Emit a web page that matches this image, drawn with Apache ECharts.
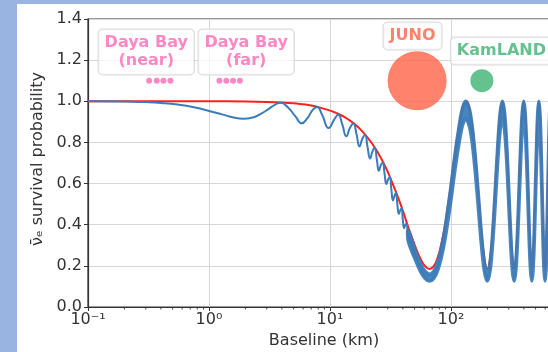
<!DOCTYPE html>
<html>
<head>
<meta charset="utf-8">
<script src="https://cdn.jsdelivr.net/npm/echarts@6/dist/echarts.min.js"></script>
<style>
  html, body { margin: 0; padding: 0; background: #ffffff; }
  #chart { width: 548px; height: 352px; }
</style>
</head>
<body>
<div id="chart"></div>
<script>
// Baselines (km) and survival probabilities
const xTickLabels = ['10⁻¹', '10⁰', '10¹', '10²', '10³'];
const minorTickValues = [0.2, 0.3, 0.4, 0.5, 0.6, 0.7, 0.8, 0.9,
  2, 3, 4, 5, 6, 7, 8, 9, 20, 30, 40, 50, 60, 70, 80, 90,
  200, 300, 400, 500, 600, 700, 800, 900];

// Solar-driven (slow) envelope
const redL = [0.1, 0.3, 1, 2, 3, 4, 5, 7, 9, 11.1, 14, 17.4, 22.2, 27.7, 33.3, 38.8, 44.3, 49.9,
  55.4, 61.0, 66.5, 72.0, 77.6, 83.1, 88.7, 94.2, 99.8, 105.3, 110.8, 116.4, 121.9, 127.5, 133,
  144.1, 155.2, 166.3, 177.3, 188.4, 199.5, 210.6, 221.7, 232.8, 243.8, 254.9, 266,
  277.1, 288.2, 299.3, 310.3, 321.4, 332.5, 343.6, 354.7, 365.8, 376.8, 387.9, 399,
  410.1, 421.2, 432.3, 443.3, 454.4, 465.5, 476.6, 487.7, 498.8, 509.8, 520.9, 532,
  543.1, 554.2, 565.3, 576.3, 587.4, 598.5, 609.6, 620.7, 631.8, 642.8, 653.9, 665,
  676.1, 687.2, 698.3];
const redP = [1.0, 1.0, 1.0, 0.999, 0.997, 0.994, 0.99, 0.98, 0.963, 0.945, 0.914, 0.87, 0.796, 0.70, 0.593, 0.49, 0.389, 0.305,
  0.24, 0.199, 0.185, 0.199, 0.24, 0.305, 0.389, 0.49, 0.593, 0.70, 0.796, 0.877, 0.945, 0.986, 1.0,
  0.945, 0.796, 0.593, 0.389, 0.24, 0.185, 0.24, 0.389, 0.593, 0.796, 0.945, 1.0,
  0.945, 0.796, 0.593, 0.389, 0.24, 0.185, 0.24, 0.389, 0.593, 0.796, 0.945, 1.0,
  0.945, 0.796, 0.593, 0.389, 0.24, 0.185, 0.24, 0.389, 0.593, 0.796, 0.945, 1.0,
  0.945, 0.796, 0.593, 0.389, 0.24, 0.185, 0.24, 0.389, 0.593, 0.796, 0.945, 1.0,
  0.945, 0.796, 0.593];

// Full oscillation, resolved wiggles at short baselines
const blueL = [0.1, 0.2, 0.3, 0.4, 0.55, 0.75, 1.0, 1.3, 1.6, 1.9, 2.3, 2.7, 3.1, 3.5, 3.9,
  4.5, 5.2, 5.85, 6.5, 7.2, 7.8, 8.6, 9.75, 10.8, 11.7, 12.6, 13.65, 14.6, 15.6, 16.5, 17.55,
  18.5, 19.5, 20.4, 21.45, 22.4, 23.4, 24.4, 25.35, 26.3, 27.3, 28.2, 29.25, 30.2, 31.2, 32.1,
  33.15, 34.1, 35.1, 36.0, 37.05, 38.0, 39.0, 39.9, 40.95, 41.9, 42.9, 43.8, 44.85, 45.8, 46.8,
  47.7, 48.75, 49.7, 50.7];
const blueP = [1.0, 0.999, 0.996, 0.992, 0.984, 0.971, 0.953, 0.935, 0.921, 0.915, 0.921, 0.94, 0.962, 0.983, 0.993,
  0.97, 0.925, 0.893, 0.918, 0.958, 0.972, 0.935, 0.87, 0.91, 0.934, 0.89, 0.83, 0.87, 0.892, 0.845, 0.78,
  0.818, 0.836, 0.78, 0.722, 0.755, 0.775, 0.715, 0.662, 0.69, 0.703, 0.65, 0.598, 0.62, 0.632, 0.575,
  0.518, 0.54, 0.555, 0.5, 0.453, 0.47, 0.48, 0.43, 0.383, 0.4, 0.405, 0.36, 0.316, 0.33, 0.338,
  0.295, 0.258, 0.27, 0.28];

// Full oscillation, unresolved fast wiggles drawn as a band
const bandL = [44.3, 49.9, 55.4, 61.0, 66.5, 72.0, 77.6, 83.1, 88.7, 94.2, 99.8, 105.3, 110.8, 116.4, 121.9, 127.5, 133,
  144.1, 155.2, 166.3, 177.3, 188.4, 199.5, 210.6, 221.7, 232.8, 243.8, 254.9, 266,
  277.1, 288.2, 299.3, 310.3, 321.4, 332.5, 343.6, 354.7, 365.8, 376.8, 387.9, 399,
  410.1, 421.2, 432.3, 443.3, 454.4, 465.5, 476.6, 487.7, 498.8, 509.8, 520.9, 532,
  543.1, 554.2, 565.3, 576.3, 587.4, 598.5, 609.6, 620.7, 631.8, 642.8, 653.9, 665,
  676.1, 687.2, 698.3];
const bandTop = [0.372, 0.285, 0.217, 0.174, 0.159, 0.174, 0.217, 0.285, 0.372, 0.477, 0.583, 0.693, 0.791, 0.874, 0.944, 0.986, 1.0,
  0.944, 0.791, 0.583, 0.372, 0.217, 0.159, 0.217, 0.372, 0.583, 0.791, 0.944, 1.0,
  0.944, 0.791, 0.583, 0.372, 0.217, 0.159, 0.217, 0.372, 0.583, 0.791, 0.944, 1.0,
  0.944, 0.791, 0.583, 0.372, 0.217, 0.159, 0.217, 0.372, 0.583, 0.791, 0.944, 1.0,
  0.944, 0.791, 0.583, 0.372, 0.217, 0.159, 0.217, 0.372, 0.583, 0.791, 0.944, 1.0,
  0.944, 0.791, 0.583];
const bandBottom = [0.321, 0.240, 0.178, 0.139, 0.126, 0.139, 0.178, 0.240, 0.321, 0.418, 0.518, 0.622, 0.716, 0.795, 0.861, 0.901, 0.915,
  0.861, 0.716, 0.518, 0.321, 0.178, 0.126, 0.178, 0.321, 0.518, 0.716, 0.861, 0.915,
  0.861, 0.716, 0.518, 0.321, 0.178, 0.126, 0.178, 0.321, 0.518, 0.716, 0.861, 0.915,
  0.861, 0.716, 0.518, 0.321, 0.178, 0.126, 0.178, 0.321, 0.518, 0.716, 0.861, 0.915,
  0.861, 0.716, 0.518, 0.321, 0.178, 0.126, 0.178, 0.321, 0.518, 0.716, 0.861, 0.915,
  0.861, 0.716, 0.518];

// Experiments
const dayaBayNearL = [0.32, 0.37, 0.42, 0.48];
const dayaBayFarL = [1.22, 1.39, 1.58, 1.80];
const junoL = [52.5];
const kamlandL = [180];
const siteLevel = 1.1;

const ink = '#333333';
const gridGrey = '#d6d6d6';
const blue = '#3b7cb9';

function zip(xs, ys) { return xs.map((x, i) => [x, ys[i]]); }
function level(xs) { return xs.map(x => [x, siteLevel]); }

function boxLabel(text, color) {
  return {
    show: true, position: 'inside', formatter: text, color: color,
    fontFamily: 'DejaVu Sans', fontWeight: 'bold', fontSize: 16, lineHeight: 18, align: 'center',
    backgroundColor: 'rgba(255,255,255,0.92)', borderColor: '#cfcfcf', borderWidth: 1,
    borderRadius: 4, padding: [5, 6, 4, 6]
  };
}

const chart = echarts.init(document.getElementById('chart'), null, { renderer: 'canvas' });
chart.setOption({
  animation: false,
  backgroundColor: '#ffffff',
  textStyle: { fontFamily: 'DejaVu Sans' },
  graphic: [
    { type: 'rect', z: 100, shape: { x: 0, y: 0, width: 17, height: 352 }, style: { fill: '#99b4e1' } },
    { type: 'rect', z: 100, shape: { x: 0, y: 0, width: 548, height: 4 }, style: { fill: '#99b4e1' } }
  ],
  grid: { left: 88, top: 19, width: 484, height: 288, show: true, borderColor: ink, borderWidth: 1.2,
    containLabel: false, outerBoundsMode: 'none' },
  xAxis: {
    type: 'log', logBase: 10, min: 0.1, max: 1000,
    name: 'Baseline (km)', nameLocation: 'middle', nameGap: 26,
    nameTextStyle: { fontSize: 16, color: ink, padding: [0, 12, 0, 0] },
    axisLine: { show: true, onZero: false, lineStyle: { color: ink, width: 1.2 } },
    axisTick: { show: true, length: 4, lineStyle: { color: ink } },
    axisLabel: { fontSize: 16, color: ink, margin: 5,
      formatter: v => xTickLabels[Math.round(Math.log10(v)) + 1] },
    splitLine: { show: true, lineStyle: { color: gridGrey, width: 1 } }
  },
  yAxis: {
    type: 'value', min: 0, max: 1.4, interval: 0.2,
    name: 'ν̄ₑ survival probability', nameLocation: 'middle', nameGap: 31,
    nameTextStyle: { fontSize: 16, color: ink, padding: [0, 0, 0, 8] },
    axisLine: { show: true, lineStyle: { color: ink, width: 1.2 } },
    axisTick: { show: true, length: 4, lineStyle: { color: ink } },
    axisLabel: { fontSize: 16, color: ink, margin: 6, formatter: v => v.toFixed(1) },
    splitLine: { show: true, lineStyle: { color: gridGrey, width: 1 } }
  },
  series: [
    {
      name: 'minor ticks', type: 'custom', silent: true, clip: false, z: 5,
      data: minorTickValues.map(v => [v, 0]),
      renderItem: (params, api) => {
        const p = api.coord([api.value(0), 0]);
        return { type: 'line', shape: { x1: p[0], y1: p[1], x2: p[0], y2: p[1] + 2.5 },
          style: { stroke: ink, lineWidth: 0.9 } };
      }
    },
    {
      name: 'envelope', type: 'line', data: zip(redL, redP), smooth: 0.5, showSymbol: false, z: 2,
      lineStyle: { color: '#ff1f1f', width: 2 }
    },
    {
      name: 'oscillation', type: 'line', data: zip(blueL, blueP), smooth: 0.5, showSymbol: false, z: 3,
      lineStyle: { color: blue, width: 2 }
    },
    {
      name: 'oscillation band', type: 'custom', silent: true, z: 3,
      data: [[bandL[0], bandTop[0]]],
      renderItem: (params, api) => {
        const pts = [];
        for (let i = 0; i < bandL.length; i++) pts.push(api.coord([bandL[i], bandTop[i]]));
        for (let i = bandL.length - 1; i >= 0; i--) pts.push(api.coord([bandL[i], bandBottom[i]]));
        return { type: 'polygon', shape: { points: pts, smooth: 0.35 },
          style: { fill: blue, stroke: blue, lineWidth: 3.5, opacity: 0.93 } };
      }
    },
    {
      name: 'Daya Bay', type: 'scatter', data: level(dayaBayNearL.concat(dayaBayFarL)),
      symbol: 'circle', symbolSize: 6, itemStyle: { color: '#ff69b4' }, z: 6
    },
    {
      name: 'JUNO', type: 'scatter', data: level(junoL), symbolSize: 59,
      itemStyle: { color: '#ff6347' }, z: 6
    },
    {
      name: 'KamLAND', type: 'scatter', data: level(kamlandL), symbolSize: 23,
      itemStyle: { color: '#3cb371' }, z: 6
    },
    {
      name: 'labels', type: 'scatter', symbolSize: 0, z: 7, silent: true,
      data: [
        { value: [0.303, 1.24], label: boxLabel('Daya Bay\n(near)', '#ff69b4') },
        { value: [2.03, 1.24], label: boxLabel('Daya Bay\n(far)', '#ff69b4') },
        { value: [48.1, 1.317], label: boxLabel('JUNO', '#ff6347') },
        { value: [261, 1.245], label: boxLabel('KamLAND', '#3cb371') }
      ]
    }
  ]
});
</script>
</body>
</html>
